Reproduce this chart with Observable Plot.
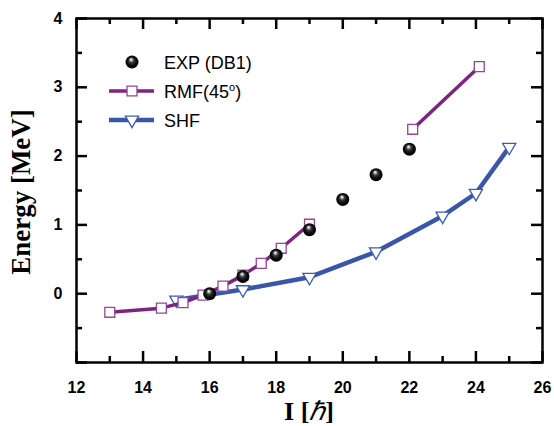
<!DOCTYPE html>
<html>
<head>
<meta charset="utf-8">
<script src="https://cdn.jsdelivr.net/npm/d3@7"></script>
<script src="https://cdn.jsdelivr.net/npm/@observablehq/plot@0.6"></script>
<style>
  body { margin: 0; background: #fff; }
  #chart { position: relative; width: 554px; height: 426px; }
  #chart svg { font-family: 'Liberation Sans', Arial, sans-serif; }
</style>
</head>
<body>
<div id="chart"></div>
<script>
// Experimental band DB1: spin (ħ) and excitation energy (MeV)
const expSpin   = [16, 17, 18, 19, 20, 21, 22];
const expEnergy = [0.00, 0.25, 0.56, 0.93, 1.37, 1.73, 2.10];

// RMF calculation at 45°, two branches
const rmfSpinLow    = [13.0, 14.55, 15.2, 15.8, 16.4, 17.0, 17.55, 18.15, 19.0];
const rmfEnergyLow  = [-0.27, -0.21, -0.13, -0.02, 0.11, 0.27, 0.44, 0.66, 1.01];
const rmfSpinHigh   = [22.1, 24.1];
const rmfEnergyHigh = [2.39, 3.30];

// SHF calculation
const shfSpin   = [15, 17, 19, 21, 23, 24, 25];
const shfEnergy = [-0.09, 0.06, 0.24, 0.61, 1.13, 1.46, 2.13];

// Axis ticks
const xMajorTicks = [12, 14, 16, 18, 20, 22, 24, 26];
const xMinorTicks = [13, 15, 17, 19, 21, 23, 25];
const yMajorTicks = [-1, 0, 1, 2, 3, 4];
const yMinorTicks = [-0.5, 0.5, 1.5, 2.5, 3.5];
const yLabelTicks = [0, 1, 2, 3, 4];

const legendLabels = ["EXP (DB1)", "RMF(45", "SHF"];

const purple = "#7d2382";
const purpleMark = "#94479a";
const blue = "#3a56a8";
const blueMark = "#3d5cb5";

const exp = expSpin.map((I, i) => ({I, E: expEnergy[i]}));
const rmf = [
  ...rmfSpinLow.map((I, i) => ({I, E: rmfEnergyLow[i], branch: "low"})),
  ...rmfSpinHigh.map((I, i) => ({I, E: rmfEnergyHigh[i], branch: "high"}))
];
const shf = shfSpin.map((I, i) => ({I, E: shfEnergy[i]}));

const W = 554, H = 426, ML = 76, MR = 12, MT = 18, MB = 64;
const frameW = W - ML - MR, frameH = H - MT - MB;
const MAJ = 11, MIN = 6, TW = 2.5;
const tickFont = {fontSize: 16, fontWeight: "bold", fill: "black", tickFormat: d3.format("d")};
const tickStyle = {stroke: "black", strokeWidth: TW};

const chart = Plot.plot({
  width: W,
  height: H,
  marginLeft: ML,
  marginRight: MR,
  marginTop: MT,
  marginBottom: MB,
  x: {domain: [12, 26], label: null},
  y: {domain: [-1, 4], label: null},
  marks: [
    Plot.frame({stroke: "black", strokeWidth: TW}),
    // inward ticks on all four sides
    Plot.tickX(xMajorTicks, {x: d => d, insetTop: frameH - MAJ, ...tickStyle}),
    Plot.tickX(xMinorTicks, {x: d => d, insetTop: frameH - MIN, ...tickStyle}),
    Plot.tickX(xMajorTicks, {x: d => d, insetBottom: frameH - MAJ, ...tickStyle}),
    Plot.tickX(xMinorTicks, {x: d => d, insetBottom: frameH - MIN, ...tickStyle}),
    Plot.tickY(yMajorTicks, {y: d => d, insetRight: frameW - MAJ, ...tickStyle}),
    Plot.tickY(yMinorTicks, {y: d => d, insetRight: frameW - MIN, ...tickStyle}),
    Plot.tickY(yMajorTicks, {y: d => d, insetLeft: frameW - MAJ, ...tickStyle}),
    Plot.tickY(yMinorTicks, {y: d => d, insetLeft: frameW - MIN, ...tickStyle}),
    // tick labels
    Plot.axisX(xMajorTicks, {anchor: "bottom", tickSize: 0, tickPadding: 19, label: null, ...tickFont}),
    Plot.axisY(yLabelTicks, {anchor: "left", tickSize: 0, tickPadding: 14, label: null, ...tickFont}),
    // SHF
    Plot.line(shf, {x: "I", y: "E", stroke: blue, strokeWidth: 4.5}),
    Plot.dot(shf, {x: "I", y: "E", symbol: "triangle", rotate: 180, r: 4.9, fill: "white", stroke: blueMark, strokeWidth: 1.3}),
    // RMF
    Plot.line(rmf, {x: "I", y: "E", z: "branch", stroke: purple, strokeWidth: 3.5}),
    Plot.dot(rmf, {x: "I", y: "E", symbol: "square", r: 5.6, fill: "white", stroke: purpleMark, strokeWidth: 1.3}),
    // experiment
    Plot.dot(exp, {x: "I", y: "E", r: 6.5, fill: "url(#sphere)", stroke: "none"})
  ]
});

const svg = d3.select(chart);

// shaded sphere fill
const grad = svg.insert("defs", ":first-child")
  .append("radialGradient").attr("id", "sphere")
  .attr("cx", "50%").attr("cy", "50%").attr("r", "50%")
  .attr("fx", "42%").attr("fy", "28%");
[[0, "#ffffff"], [0.14, "#cfcfcf"], [0.38, "#3a3a3a"], [0.7, "#0b0b0b"], [1, "#000000"]]
  .forEach(([o, c]) => grad.append("stop").attr("offset", o).attr("stop-color", c));

// axis titles
svg.append("text")
  .attr("transform", "translate(30,192) rotate(-90)")
  .attr("text-anchor", "middle")
  .style("font-family", "'Liberation Serif', 'Times New Roman', serif")
  .style("font-weight", "bold")
  .style("font-size", "27px")
  .attr("fill", "black")
  .text("Energy [MeV]");

const xt = svg.append("text")
  .attr("x", 309).attr("y", 420)
  .attr("text-anchor", "middle")
  .style("font-family", "'Liberation Serif', 'Times New Roman', serif")
  .style("font-weight", "bold")
  .style("font-size", "26px")
  .attr("fill", "black");
xt.append("tspan").text("I [");
xt.append("tspan").style("font-style", "italic").style("font-weight", "normal").text("ℏ");
xt.append("tspan").text("]");

// legend
const lg = svg.append("g")
  .attr("text-anchor", "start")
  .style("font-family", "'Liberation Sans', Arial, sans-serif")
  .style("font-size", "18px");
const rows = [62, 91, 120];
lg.append("circle").attr("cx", 132).attr("cy", rows[0]).attr("r", 6.5).attr("fill", "url(#sphere)");
lg.append("line").attr("x1", 109).attr("x2", 154).attr("y1", rows[1]).attr("y2", rows[1])
  .attr("stroke", purple).attr("stroke-width", 3.5);
lg.append("path").attr("d", d3.symbol(d3.symbolSquare, Math.PI * 5.6 * 5.6)())
  .attr("transform", `translate(132,${rows[1]})`)
  .attr("fill", "white").attr("stroke", purpleMark).attr("stroke-width", 1.3);
lg.append("line").attr("x1", 109).attr("x2", 154).attr("y1", rows[2]).attr("y2", rows[2])
  .attr("stroke", blue).attr("stroke-width", 4.5);
lg.append("path").attr("d", d3.symbol(d3.symbolTriangle, Math.PI * 4.9 * 4.9)())
  .attr("transform", `translate(132,${rows[2]}) rotate(180)`)
  .attr("fill", "white").attr("stroke", blueMark).attr("stroke-width", 1.3);

legendLabels.forEach((t, i) => {
  const tx = lg.append("text").attr("x", 164).attr("y", rows[i] + 6.5).attr("fill", "black").text(t);
  if (i === 1) {
    tx.append("tspan").attr("dy", -7).style("font-size", "11px").text("o");
    tx.append("tspan").attr("dy", 7).text(")");
  }
});

document.getElementById("chart").appendChild(chart);
</script>
</body>
</html>
